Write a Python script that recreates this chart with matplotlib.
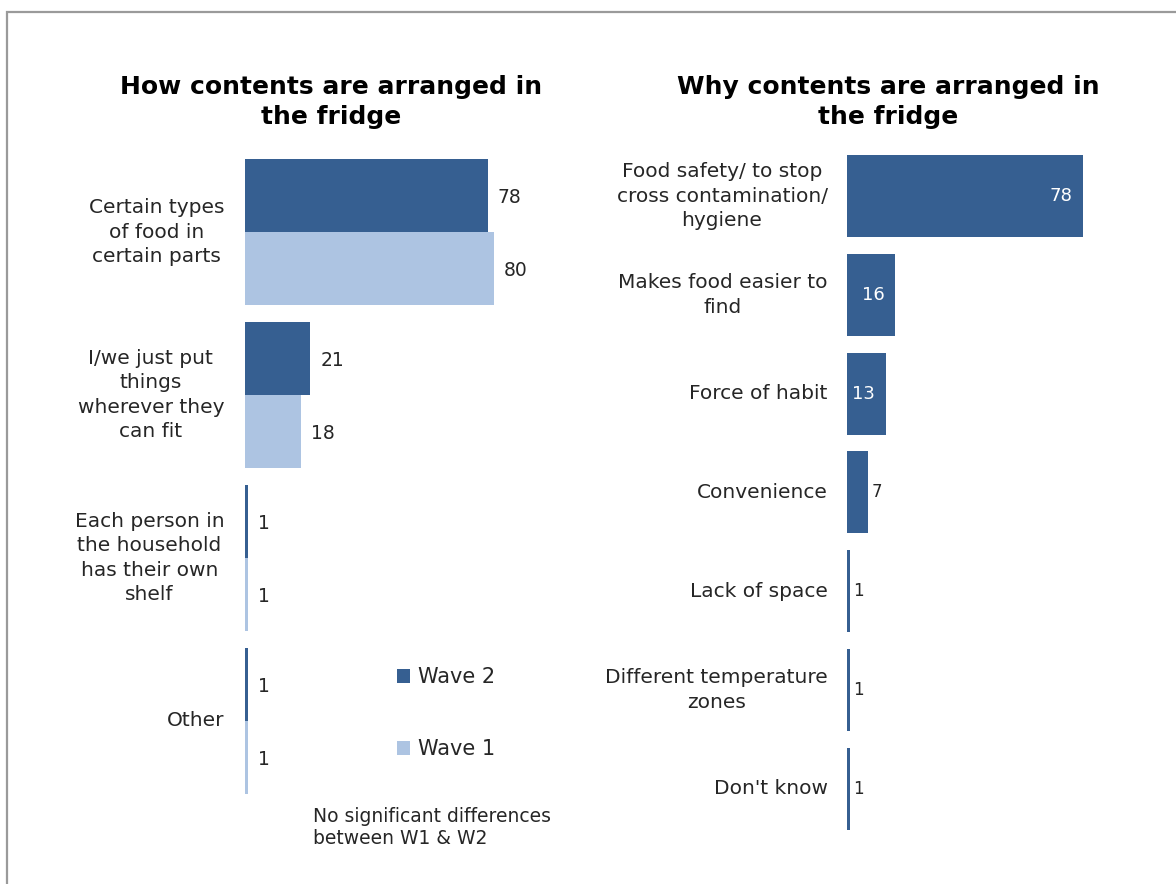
import matplotlib.pyplot as plt
from matplotlib.patches import Rectangle

# how contents are arranged (wave 2 vs wave 1)
how_labels = ['Certain types\nof food in\ncertain parts',
              'I/we just put\nthings\nwherever they\ncan fit',
              'Each person in\nthe household\nhas their own\nshelf',
              'Other']
wave2 = [78, 21, 1, 1]
wave1 = [80, 18, 1, 1]

# why contents are arranged
why_labels = ['Food safety/ to stop\ncross contamination/\nhygiene',
              'Makes food easier to\nfind',
              'Force of habit',
              'Convenience',
              'Lack of space',
              'Different temperature\nzones',
              "Don't know"]
why_values = [78, 16, 13, 7, 1, 1, 1]

dark = '#365F91'
light = '#ADC4E2'
txt = '#262626'

W, H = 1176, 884
fig = plt.figure(figsize=(W / 100, H / 100), dpi=100)
plt.rcParams['font.family'] = 'DejaVu Sans'

# outer frame (only top and left edges fall inside the image)
fig.patches.append(Rectangle((7 / W, 0 - 0.05), 1.2, 1 - 12 / H + 0.05,
                             transform=fig.transFigure, fill=False,
                             edgecolor='#9a9a9a', linewidth=1.6))


def px_axes(left, top, width, height):
    return fig.add_axes([left / W, 1 - (top + height) / H, width / W, height / H])


def style_labels(ax, labels, pad):
    ax.set_yticks(range(len(labels)))
    ax.set_yticklabels(labels, fontsize=14.5, color=txt)
    for t in ax.get_yticklabels():
        t.set_multialignment('center')
        t.set_linespacing(1.36)
        t.set_verticalalignment('center')
    ax.tick_params(axis='y', length=0, pad=pad)
    ax.set_xticks([])
    for s in ax.spines.values():
        s.set_visible(False)


# ---- left chart ----
ax1 = px_axes(245, 150.5, 311.5, 652)
pos = range(len(how_labels))
bh = 0.45
b2 = ax1.barh([p - bh / 2 for p in pos], wave2, height=bh, color=dark, label='Wave 2')
b1 = ax1.barh([p + bh / 2 for p in pos], wave1, height=bh, color=light, label='Wave 1')
ax1.set_xlim(0, 100)
ax1.set_ylim(3.5, -0.5)
for bars in (b2, b1):
    for r in bars:
        ax1.annotate(f'{r.get_width():.0f}', (r.get_width(), r.get_y() + r.get_height() / 2),
                     xytext=(7, -1.5), textcoords='offset points', va='center', ha='left',
                     fontsize=13.5, color=txt)
style_labels(ax1, how_labels, 15)
ax1.set_title('How contents are arranged in\nthe fridge', fontsize=18,
              fontweight='bold', x=(331 - 245) / 311.5, y=1.0, pad=19, linespacing=1.3)

ax1.legend(loc='center left', bbox_to_anchor=(378 / W, 1 - 713 / H),
           bbox_transform=fig.transFigure, frameon=False, fontsize=15,
           handlelength=0.65, handleheight=0.65, handletextpad=0.35,
           labelspacing=2.5, labelcolor=txt)

fig.text(313 / W, 1 - 827 / H, 'No significant differences\nbetween W1 & W2',
         fontsize=13.5, color=txt, va='center', ha='left', linespacing=1.2)

# ---- right chart ----
ax2 = px_axes(847, 146.6, 303, 691.6)
bars = ax2.barh(range(len(why_labels)), why_values, height=0.83, color=dark)
ax2.set_xlim(0, 100)
ax2.set_ylim(6.5, -0.5)
for r, v in zip(bars, why_values):
    yc = r.get_y() + r.get_height() / 2
    if v >= 10:
        ax2.annotate(f'{v}', (v, yc), xytext=(-8, 0), textcoords='offset points',
                     va='center', ha='right', fontsize=13, color='white')
    else:
        ax2.annotate(f'{v}', (v, yc), xytext=(2.5, 0), textcoords='offset points',
                     va='center', ha='left', fontsize=12, color=txt)
style_labels(ax2, why_labels, 14)
ax2.set_title('Why contents are arranged in\nthe fridge', fontsize=18,
              fontweight='bold', x=(888 - 847) / 303, y=1.0, pad=16.5, linespacing=1.3)

fig.savefig('out.png', dpi=100)
